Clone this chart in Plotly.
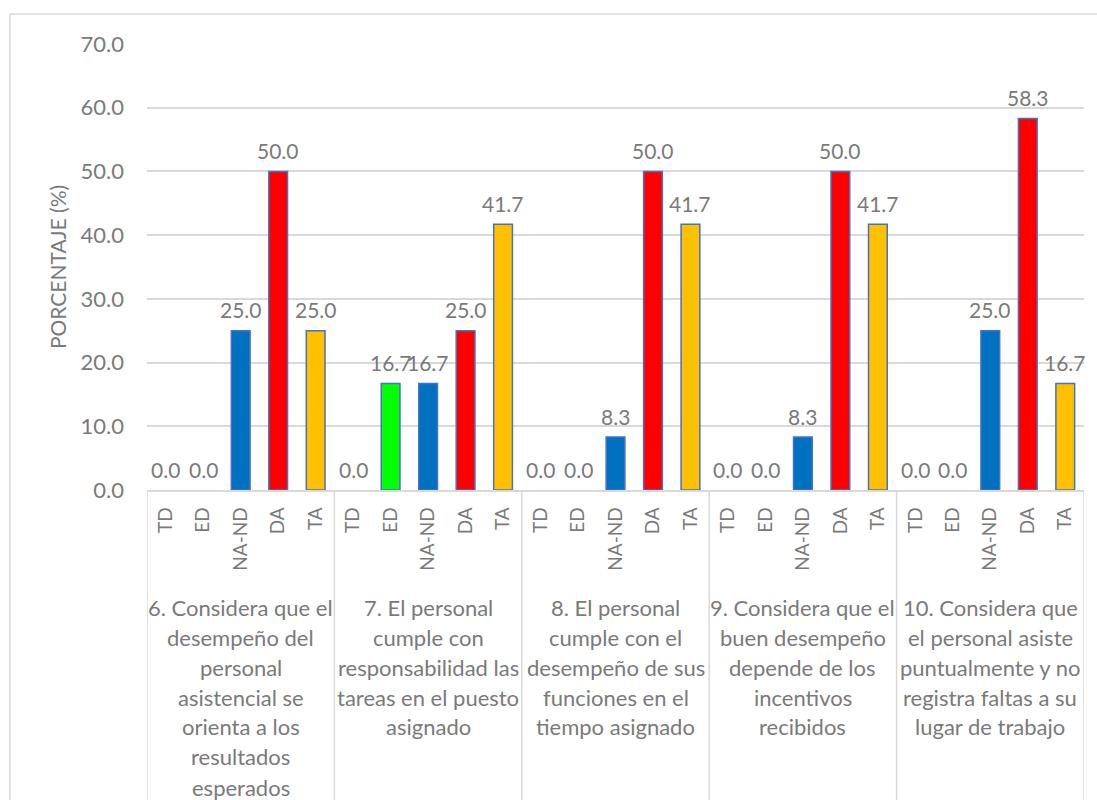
import plotly.graph_objects as go

# Response categories (Likert scale) and survey items
categorias = ["TD", "ED", "NA-ND", "DA", "TA"]
preguntas = [
    "6. Considera que el<br>desempeño del<br>personal<br>asistencial se<br>orienta a los<br>resultados<br>esperados",
    "7. El personal<br>cumple con<br>responsabilidad las<br>tareas en el puesto<br>asignado",
    "8. El personal<br>cumple con el<br>desempeño de sus<br>funciones en el<br>tiempo asignado",
    "9. Considera que el<br>buen desempeño<br>depende de los<br>incentivos<br>recibidos",
    "10. Considera que<br>el personal asiste<br>puntualmente y no<br>registra faltas a su<br>lugar de trabajo",
]

# Percentages per category, one value per survey item
td = [0.0, 0.0, 0.0, 0.0, 0.0]
ed = [0.0, 16.7, 0.0, 0.0, 0.0]
na_nd = [25.0, 16.7, 8.3, 8.3, 25.0]
da = [50.0, 25.0, 50.0, 50.0, 58.3]
ta = [25.0, 41.7, 41.7, 41.7, 16.7]

series = [td, ed, na_nd, da, ta]
colores = ["#A5A5A5", "#00FF00", "#0070C0", "#FF0000", "#FFC000"]

TXT = "#7A7A7A"
GRID = "#D9D9D9"
FONT = "Lato"

n_cat = len(categorias)
fig = go.Figure()
annotations = []

for i, (nombre, valores, color) in enumerate(zip(categorias, series, colores)):
    xs = [g * n_cat + i for g in range(len(valores))]
    fig.add_trace(go.Bar(
        x=xs, y=valores, name=nombre, width=0.5,
        marker=dict(color=color,
                    line=dict(color="#4472C4",
                              width=[1.5 if v > 0 else 0 for v in valores])),
        showlegend=False,
    ))
    for x, v in zip(xs, valores):
        annotations.append(dict(
            x=x, y=v, xref="x", yref="y", text=f"{v:.1f}", showarrow=False,
            yanchor="middle", yshift=21,
            font=dict(family=FONT, size=21, color=TXT),
        ))

# Group labels below the category ticks, one annotation per line
line_px = 30
plot_h = 446
for g, texto in enumerate(preguntas):
    for k, linea in enumerate(texto.split("<br>")):
        y_px = 117 + k * line_px
        annotations.append(dict(
            x=g * n_cat + (n_cat - 1) / 2, y=-y_px / plot_h, xref="x", yref="paper",
            text=linea, showarrow=False, yanchor="middle", xanchor="center",
            font=dict(family=FONT, size=22, color=TXT),
        ))

shapes = []
# Dividers between groups on the category axis
for g in range(len(preguntas) + 1):
    xd = g * n_cat - 0.5
    shapes.append(dict(type="line", xref="x", yref="paper",
                       x0=xd, x1=xd, y0=0, y1=-0.72,
                       line=dict(color=GRID, width=1.5)))
# Outer chart border
shapes.append(dict(type="rect", xref="paper", yref="paper",
                   x0=-137 / 937, x1=1084 / 937, y0=-0.72, y1=476 / 446,
                   line=dict(color=GRID, width=1.5), layer="below"))

fig.update_layout(
    width=1097, height=800,
    margin=dict(l=147, r=13, t=44, b=310),
    paper_bgcolor="white", plot_bgcolor="white",
    barmode="overlay",
    font=dict(family=FONT, color=TXT),
    annotations=annotations,
    shapes=shapes,
    xaxis=dict(
        range=[-0.5, n_cat * len(preguntas) - 0.5],
        tickmode="array",
        tickvals=list(range(n_cat * len(preguntas))),
        ticktext=categorias * len(preguntas),
        tickangle=-90,
        tickfont=dict(family=FONT, size=19, color=TXT),
        ticks="", showgrid=False, zeroline=False,
        showline=True, linecolor=GRID, linewidth=1.5,
        ticklabelstandoff=8,
    ),
    yaxis=dict(
        range=[0, 70], dtick=10, tickformat=".1f",
        tickfont=dict(family=FONT, size=22, color=TXT),
        gridcolor=GRID, gridwidth=1.5, zeroline=False,
        ticks="", ticklabelstandoff=22,
        title=dict(text="PORCENTAJE (%)", standoff=8,
                   font=dict(family=FONT, size=21, color=TXT)),
    ),
)

fig.write_html("out.html")
